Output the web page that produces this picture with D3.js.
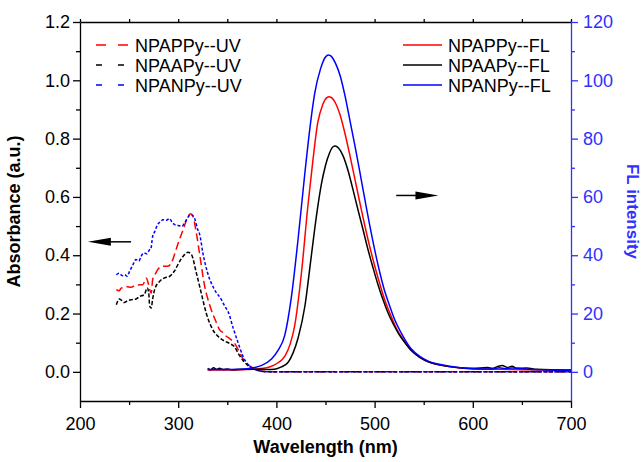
<!DOCTYPE html>
<html>
<head>
<meta charset="utf-8">
<script src="https://cdn.jsdelivr.net/npm/d3@7"></script>
<style>
  body { margin: 0; background: #fff; }
  text { font-family: "Liberation Sans", Arial, sans-serif; }
</style>
</head>
<body>
<div id="chart"></div>
<script>
// UV absorbance, [wavelength nm, absorbance]
const uvNPAPPy = [[237,0.282],[240,0.278],[242,0.288],[245,0.288],[248,0.292],[252,0.290],[256,0.296],[260,0.298],[264,0.299],[267.5,0.322],[269,0.31],[271,0.282],[272.5,0.27],[274,0.316],[277,0.338],[279,0.350],[284,0.362],[289.5,0.362],[294.5,0.385],[297,0.41],[300,0.442],[305,0.487],[310,0.533],[312.5,0.542],[315,0.533],[318.5,0.476],[322,0.40],[327,0.293],[332,0.23],[339,0.168],[342,0.145],[345.5,0.135],[349,0.122],[352,0.115],[357.5,0.098],[362,0.07],[366,0.045],[369,0.031],[373,0.02],[377,0.012],[382,0.005],[388,0.001],[395,0.0],[450,0.0],[500,0.0],[550,0.0],[600,0.0],[650,0.0],[700,0.0]];
const uvNPAAPy = [[237,0.23],[240,0.25],[242,0.246],[245,0.238],[249,0.245],[254,0.248],[257,0.25],[261,0.259],[265.5,0.265],[268.5,0.288],[270,0.27],[271,0.225],[272.5,0.219],[274,0.25],[276,0.282],[281,0.31],[286,0.322],[291,0.327],[296,0.345],[301.5,0.379],[306.5,0.402],[310,0.41],[313.5,0.402],[318.5,0.339],[323.5,0.27],[328.5,0.202],[333.5,0.156],[337,0.135],[340.5,0.122],[344,0.112],[347.5,0.105],[352.5,0.097],[357.5,0.085],[362,0.058],[367,0.035],[372,0.019],[377,0.01],[382,0.004],[388,0.001],[395,0.0],[450,0.0],[500,0.0],[550,0.0],[600,0.0],[650,0.0],[700,0.0]];
const uvNPANPy = [[237,0.333],[240,0.338],[243,0.330],[245.5,0.333],[248,0.328],[250.5,0.345],[254,0.368],[257,0.385],[260,0.38],[262,0.395],[265.5,0.408],[268,0.405],[271,0.419],[272,0.42],[274,0.465],[276,0.48],[279,0.505],[282,0.515],[284.5,0.522],[288,0.52],[291,0.526],[294,0.512],[296.5,0.505],[300,0.502],[304,0.499],[306,0.508],[308.5,0.522],[311,0.535],[313.5,0.539],[316.5,0.528],[320,0.487],[322,0.47],[325,0.41],[330,0.339],[337,0.282],[344,0.248],[347.5,0.225],[351,0.205],[356,0.15],[361,0.10],[366,0.053],[370,0.03],[374.5,0.015],[380,0.006],[385,0.002],[390,0.0],[450,0.0],[500,0.0],[550,0.0],[600,0.0],[650,0.0],[700,0.0]];

// fluorescence, [wavelength nm, intensity]
const flNPAPPy = [[330,0.6],[350,0.6],[370,0.8],[380,1.0],[390,1.4],[395,1.9],[402,3.2],[408.5,5.3],[414,9.5],[418.5,15.6],[425.5,33.9],[432,56.7],[437,72],[442,85.3],[447,91.5],[451,94],[454,94.4],[457,93.8],[460,92.3],[464.5,88.5],[470,81.5],[475,74],[480,66],[485,58],[490,50.2],[495,43],[500,36.5],[505,30.5],[510,25],[515.5,20.2],[522,15],[529,11.1],[537,7.6],[546,5.0],[556,3.3],[567,2.3],[587,1.3],[600,1.0],[620,0.9],[640,0.8],[660,0.7],[700,0.5]];
const flNPAAPy = [[330,1.2],[333,0.7],[336,1.4],[339,0.8],[342,1.2],[346,0.8],[350,1.0],[355,0.7],[360,0.8],[370,0.9],[380,0.9],[390,0.8],[398,0.9],[405,1.7],[412,3.3],[417,6.5],[422,11.5],[429,22.5],[435.5,39.6],[441,54],[446,64.7],[450,70.8],[454,75],[457,77],[459.5,77.5],[462,77.2],[465,76],[468,74],[473,69],[478,62.5],[483,55.7],[488.5,48.4],[493,42.3],[498.5,35.6],[503,30.4],[508.5,24.8],[513,20.8],[519,16.4],[525,12.8],[530,10.4],[537,7.4],[546,5.0],[556,3.3],[567,2.3],[587,1.4],[600,1.2],[615,1.5],[620,1.2],[625,1.8],[630,2.2],[635,1.5],[640,1.9],[645,1.2],[655,1.3],[665,0.9],[700,0.6]];
const flNPANPy = [[330,0.8],[340,0.8],[350,0.8],[360,0.9],[370,1.1],[378,1.5],[385,2.2],[395,4.4],[402,7.5],[408.5,12.5],[415,25],[422,45.3],[429,68.2],[435,86],[439,95.5],[445,104],[450,108],[453,108.7],[456,108.2],[460,106],[465,101.5],[470,94.5],[475,86],[480,77.5],[485,68.5],[490,59.3],[495,50.3],[500,42],[505,34.5],[510,28],[515.5,22.5],[520,18.3],[529,12.2],[537,8],[546,5.3],[555,3.6],[567,2.5],[587,1.4],[600,1.1],[620,1.0],[627,1.4],[633,1.1],[640,1.3],[660,0.8],[700,0.5]];

const uvSeries = [
  { name: "NPAPPy--UV", data: uvNPAPPy, color: "#ff0000", dash: "8,4", legendDash: "10,12" },
  { name: "NPAAPy--UV", data: uvNPAAPy, color: "#000000", dash: "4,2", legendDash: "6,16" },
  { name: "NPANPy--UV", data: uvNPANPy, color: "#0000ff", dash: "3,2", legendDash: "6,16" },
];
const flSeries = [
  { name: "NPAPPy--FL", data: flNPAPPy, color: "#ff0000" },
  { name: "NPAAPy--FL", data: flNPAAPy, color: "#000000" },
  { name: "NPANPy--FL", data: flNPANPy, color: "#0000ff" },
];

const xTicks = [200, 300, 400, 500, 600, 700];
const xMinor = [250, 350, 450, 550, 650];
const yLeftTicks = [0, 0.2, 0.4, 0.6, 0.8, 1.0, 1.2];
const yLeftMinor = [0.1, 0.3, 0.5, 0.7, 0.9, 1.1];
const yRightTicks = [0, 20, 40, 60, 80, 100, 120];
const yRightMinor = [10, 30, 50, 70, 90, 110];

const margin = { top: 22, right: 73, bottom: 61, left: 80 };
const width = 644 - margin.left - margin.right;
const height = 462 - margin.top - margin.bottom;
const axisBlue = "#3030ff";

const svg = d3.select("#chart")
  .append("svg")
  .attr("width", 644)
  .attr("height", 462)
  .style("background", "#fff")
  .append("g")
  .attr("transform", `translate(${margin.left}, ${margin.top})`);

const x = d3.scaleLinear().domain([200, 700]).range([0, width]);
const yL = d3.scaleLinear().domain([-0.1, 1.2]).range([height, 0]);
const yR = d3.scaleLinear().domain([-10, 120]).range([height, 0]);

// axes
const styleAxis = (g, color) => {
  g.attr("font-family", null);
  g.selectAll("path, line").attr("stroke", color).attr("stroke-width", 1.3);
  g.selectAll("text").attr("fill", color).style("font-size", "18px")
    .style("font-family", '"Liberation Sans", Arial, sans-serif');
};

svg.append("g")
  .attr("transform", `translate(0, ${height})`)
  .call(d3.axisBottom(x).tickValues(xTicks).tickSize(7).tickSizeOuter(0).tickPadding(9))
  .call((g) => styleAxis(g, "#000"));
svg.append("g")
  .attr("transform", `translate(0, ${height})`)
  .call(d3.axisBottom(x).tickValues(xMinor).tickSize(4).tickFormat(""))
  .call((g) => g.select(".domain").remove())
  .call((g) => styleAxis(g, "#000"));

svg.append("g")
  .call(d3.axisTop(x).tickValues(xTicks.concat(xMinor)).tickSize(3).tickSizeOuter(0).tickFormat(""))
  .call((g) => styleAxis(g, "#000"));

svg.append("g")
  .call(d3.axisLeft(yL).tickValues(yLeftTicks).tickFormat(d3.format(".1f")).tickSize(7).tickSizeOuter(0).tickPadding(3))
  .call((g) => styleAxis(g, "#000"));
svg.append("g")
  .call(d3.axisLeft(yL).tickValues(yLeftMinor).tickSize(4).tickFormat(""))
  .call((g) => g.select(".domain").remove())
  .call((g) => styleAxis(g, "#000"));

svg.append("g")
  .attr("transform", `translate(${width}, 0)`)
  .call(d3.axisRight(yR).tickValues(yRightTicks).tickSize(7).tickSizeOuter(0).tickPadding(5))
  .call((g) => styleAxis(g, axisBlue));
svg.append("g")
  .attr("transform", `translate(${width}, 0)`)
  .call(d3.axisRight(yR).tickValues(yRightMinor).tickSize(4).tickFormat(""))
  .call((g) => g.select(".domain").remove())
  .call((g) => styleAxis(g, axisBlue));

// axis titles
svg.append("text")
  .attr("x", width / 2)
  .attr("y", height + 52)
  .attr("text-anchor", "middle")
  .style("font-size", "18px")
  .style("font-weight", "bold")
  .text("Wavelength (nm)");
svg.append("text")
  .attr("transform", `translate(${-60}, ${height / 2}) rotate(-90)`)
  .attr("text-anchor", "middle")
  .style("font-size", "18px")
  .style("font-weight", "bold")
  .text("Absorbance (a.u.)");
svg.append("text")
  .attr("transform", `translate(${width + 56}, ${height / 2}) rotate(90)`)
  .attr("text-anchor", "middle")
  .attr("fill", axisBlue)
  .style("font-size", "17px")
  .style("font-weight", "bold")
  .text("FL intensity");

// curves
const uvLine = d3.line()
  .x((d) => x(d[0]))
  .y((d) => yL(d[1]))
  .curve(d3.curveMonotoneX);
const flLine = d3.line()
  .x((d) => x(d[0]))
  .y((d) => yR(d[1]))
  .curve(d3.curveMonotoneX);

svg.selectAll(".uvLine")
  .data(uvSeries)
  .enter()
  .append("path")
  .attr("class", "uvLine")
  .attr("d", (d) => uvLine(d.data))
  .attr("fill", "none")
  .attr("stroke", (d) => d.color)
  .attr("stroke-width", 1.5)
  .attr("stroke-dasharray", (d) => d.dash);

svg.selectAll(".flLine")
  .data(flSeries)
  .enter()
  .append("path")
  .attr("class", "flLine")
  .attr("d", (d) => flLine(d.data))
  .attr("fill", "none")
  .attr("stroke", (d) => d.color)
  .attr("stroke-width", 1.5);

// arrows pointing to their axes
const arrow = (x0, x1, y) => {
  const dir = Math.sign(x1 - x0);
  svg.append("line")
    .attr("x1", x0).attr("x2", x1 - dir * 20)
    .attr("y1", y).attr("y2", y)
    .attr("stroke", "#000").attr("stroke-width", 1.5);
  svg.append("path")
    .attr("d", `M${x1},${y} L${x1 - dir * 23},${y - 4} L${x1 - dir * 23},${y + 4} Z`)
    .attr("fill", "#000");
};
arrow(x(252), x(208), yL(0.446));
arrow(x(522), x(565), yR(60.5));

// legends
const legendUV = svg.append("g").attr("transform", "translate(16, 23)");
uvSeries.forEach((s, i) => {
  const row = legendUV.append("g").attr("transform", `translate(0, ${i * 20})`);
  row.append("line")
    .attr("x1", 0).attr("x2", 32)
    .attr("stroke", s.color).attr("stroke-width", 1.5)
    .attr("stroke-dasharray", s.legendDash);
  row.append("text")
    .attr("x", 39).attr("y", 6.5)
    .style("font-size", "18px")
    .text(s.name);
});
const legendFL = svg.append("g").attr("transform", "translate(323, 23)");
flSeries.forEach((s, i) => {
  const row = legendFL.append("g").attr("transform", `translate(0, ${i * 20})`);
  row.append("line")
    .attr("x1", 0).attr("x2", 39)
    .attr("stroke", s.color).attr("stroke-width", 1.5);
  row.append("text")
    .attr("x", 45).attr("y", 6.5)
    .style("font-size", "18px")
    .text(s.name);
});
</script>
</body>
</html>
